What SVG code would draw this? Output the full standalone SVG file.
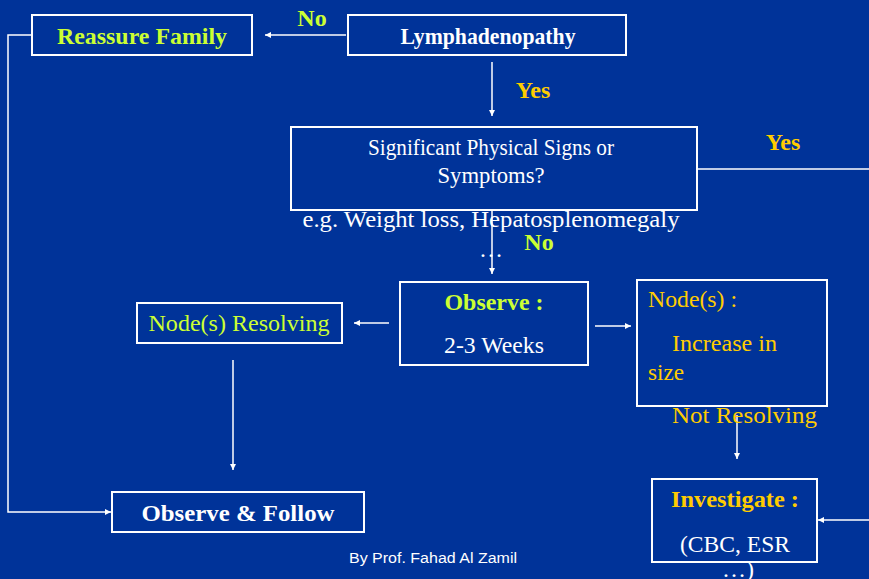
<svg xmlns="http://www.w3.org/2000/svg" width="869" height="579" viewBox="0 0 869 579">
<defs>
<style>
.box{fill:#003399;stroke:#ffffff;stroke-width:2}
.t{font-family:"Liberation Serif","Times New Roman",serif;font-size:24px}
.b{font-weight:bold}
.w{fill:#ffffff}
.g{fill:#ccff33}
.y{fill:#ffcc00}
.ln{fill:none;stroke:#ffffff;stroke-width:1.5}
.foot{font-family:"Liberation Sans",Arial,sans-serif;font-size:14px;fill:#ffffff}
</style>
<marker id="ah" viewBox="0 0 10 10" refX="10" refY="5" markerWidth="6" markerHeight="6" markerUnits="userSpaceOnUse" orient="auto">
<path d="M0,0 L10,5 L0,10 z" fill="#ffffff"/>
</marker>
</defs>
<rect width="869" height="579" fill="#003399"/>

<g id="connectors">
<line class="ln" x1="346" y1="35" x2="265" y2="35" marker-end="url(#ah)"/>
<line class="ln" x1="492" y1="62" x2="492" y2="116" marker-end="url(#ah)"/>
<line class="ln" x1="697" y1="169" x2="869" y2="169"/>
<line class="ln" x1="492" y1="210" x2="492" y2="274" marker-end="url(#ah)"/>
<line class="ln" x1="389" y1="323" x2="354" y2="323" marker-end="url(#ah)"/>
<line class="ln" x1="595" y1="326" x2="631" y2="326" marker-end="url(#ah)"/>
<line class="ln" x1="233" y1="360" x2="233" y2="470" marker-end="url(#ah)"/>
<line class="ln" x1="737" y1="415" x2="737" y2="459" marker-end="url(#ah)"/>
<line class="ln" x1="869" y1="520" x2="818" y2="520" marker-end="url(#ah)"/>
<polyline class="ln" points="32,35 8,35 8,512 111,512" marker-end="url(#ah)"/>
<text class="t b g" x="312" y="26" text-anchor="middle" font-size="20">No</text>
<text class="t b y" x="533" y="98" text-anchor="middle" font-size="20">Yes</text>
<text class="t b y" x="783" y="150" text-anchor="middle" font-size="20">Yes</text>
<text class="t b g" x="539" y="250" text-anchor="middle" font-size="20">No</text>
</g>

<g id="reassure">
<rect class="box" x="32" y="15" width="220" height="40"/>
<text class="t b g" x="142" y="44" text-anchor="middle" font-size="25" textLength="170" lengthAdjust="spacingAndGlyphs">Reassure Family</text>
</g>

<g id="lymph">
<rect class="box" x="348" y="15" width="278" height="40"/>
<text class="t b w" x="488" y="44" text-anchor="middle" font-size="25" textLength="175" lengthAdjust="spacingAndGlyphs">Lymphadenopathy</text>
</g>

<g id="signs">
<rect class="box" x="291" y="127" width="406" height="83"/>
<text class="t w" x="491" y="155" text-anchor="middle" textLength="246" lengthAdjust="spacingAndGlyphs">Significant Physical Signs or</text>
<text class="t w" x="491" y="183" text-anchor="middle" textLength="107" lengthAdjust="spacingAndGlyphs">Symptoms?</text>
<text class="t w" x="491" y="227" text-anchor="middle" textLength="377" lengthAdjust="spacingAndGlyphs">e.g. Weight loss, Hepatosplenomegaly</text>
<text class="t w" x="491" y="257" text-anchor="middle">…</text>
</g>

<g id="observe">
<rect class="box" x="400" y="282" width="188" height="83"/>
<text class="t b g" x="494" y="310" text-anchor="middle" textLength="99" lengthAdjust="spacingAndGlyphs">Observe :</text>
<text class="t w" x="494" y="353" text-anchor="middle" textLength="100" lengthAdjust="spacingAndGlyphs">2-3 Weeks</text>
</g>

<g id="resolving">
<rect class="box" x="137" y="303" width="205" height="40"/>
<text class="t g" x="239" y="331" text-anchor="middle" textLength="181" lengthAdjust="spacingAndGlyphs">Node(s) Resolving</text>
</g>

<g id="increase">
<rect class="box" x="637" y="280" width="190" height="126"/>
<text class="t y" x="648" y="307" textLength="89" lengthAdjust="spacingAndGlyphs">Node(s) :</text>
<text class="t y" x="672" y="351" textLength="105" lengthAdjust="spacingAndGlyphs">Increase in</text>
<text class="t y" x="648" y="380" textLength="36" lengthAdjust="spacingAndGlyphs">size</text>
<text class="t y" x="672" y="423" textLength="145" lengthAdjust="spacingAndGlyphs">Not Resolving</text>
</g>

<g id="follow">
<rect class="box" x="112" y="492" width="252" height="40"/>
<text class="t b w" x="238" y="521" text-anchor="middle" font-size="25" textLength="193" lengthAdjust="spacingAndGlyphs">Observe &amp; Follow</text>
</g>

<g id="investigate">
<rect class="box" x="652" y="479" width="165" height="83"/>
<text class="t b y" x="735" y="507" text-anchor="middle" textLength="128" lengthAdjust="spacingAndGlyphs">Investigate :</text>
<text class="t w" x="735" y="552" text-anchor="middle" textLength="110" lengthAdjust="spacingAndGlyphs">(CBC, ESR</text>
<text class="t w" x="738" y="577" text-anchor="middle">…)</text>
</g>

<text class="foot" x="433" y="563" text-anchor="middle" textLength="168" lengthAdjust="spacingAndGlyphs">By Prof. Fahad Al Zamil</text>
</svg>
